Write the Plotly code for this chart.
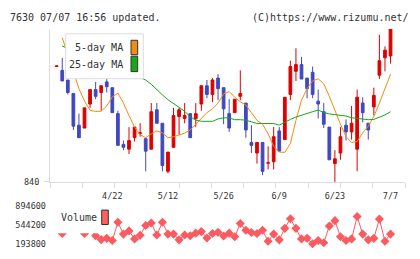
import plotly.graph_objects as go

# ---------------- data ----------------
idx = list(range(61))
tick_pos = [10, 20, 30, 40, 50, 60]
tick_labels = ["4/22", "5/12", "5/26", "6/9", "6/23", "7/7"]

open_ = [960, 956, 946, 932, 899, 896, 921, 936, 933, 944,
         938, 911, 879, 874, 886, 890.5, 885, 874, 915, 901,
         851, 876, 908, 906, 911, 906, 921, 940, 931, 948,
         938, 911, 912, 929, 922, 881, 870, 881, 859.5, 861,
         893, 884, 931, 955, 962, 948, 954, 924, 913, 897,
         859, 870, 899, 892, 874, 922, 901, 918, 951, 969,
         971]
high = [961, 969, 946, 932, 911, 917, 936, 944, 940, 948,
        938, 914, 883, 897, 897, 901, 885, 922, 922, 901,
        871, 917, 917, 922, 911, 922, 940, 946, 948, 952,
        938, 926, 926, 956, 922, 899, 881, 881, 877, 897,
        897, 928, 966, 979, 970, 948, 960, 936, 922, 897,
        873, 897, 905, 919, 936, 928, 901, 938, 993, 981,
        999]
low = [960, 945, 931, 894, 886, 896, 917, 926, 914, 933,
       912, 878, 873, 869, 882, 887, 851, 874, 901, 851,
       849, 876, 889, 901, 886, 897, 914, 927, 923, 925,
       900, 892, 912, 925, 886, 870, 859, 847, 853, 853,
       872, 884, 925, 945, 947, 927, 927, 906, 896, 863,
       840, 863, 883, 884, 851, 902, 884, 909, 947, 955,
       963]
close = [960.6, 945, 933, 898, 886, 917, 936, 929, 940, 939,
         912, 878, 876, 883, 897, 891, 872, 913, 901, 857,
         871, 909, 915, 909, 886, 911, 940, 931, 946, 937,
         916, 896, 926, 932, 894, 878, 881, 851, 860, 887,
         872, 928, 960, 962, 947, 937, 931, 921, 900, 863,
         864, 887, 892, 901, 928, 912, 894, 930, 966, 977,
         999]

ma5 = [None, 990, 972, 954, 937, 924, 914.5, 913.3, 913.5, 919,
       928.5, 932.3, 922, 909, 897, 889, 886, 890, 893, 891,
       886, 887, 889, 890.7, 894, 900, 907, 912, 916, 922,
       931.5, 934, 928, 923.3, 920, 912, 904, 900, 890, 877,
       871, 870.7, 880, 904, 925, 937, 945, 947.3, 942, 929,
       914, 900, 887, 881, 882, 891, 898, 908, 922, 937,
       952]
ma25 = [None, 981.3, 979, 977, 974, 972, 969, 967, 964, 962,
        960, 958, 956, 954, 951, 948.5, 946, 941.5, 935.7, 930.5,
        925.5, 921.5, 917.5, 913.5, 907.5, 904.3, 903, 903, 903, 905.5,
        906.7, 906.5, 904.7, 904.7, 904.2, 902.5, 900.7, 900.7, 900.7, 900.7,
        899, 902.2, 905, 907.5, 909.5, 911.3, 913, 914.7, 912.2, 910.7,
        909.8, 909, 908.5, 906.7, 905.8, 905, 904.7, 905, 907, 909.7,
        913]

volume = [500000, 382800, 600000, 894600, 560000, 382800, 470000, 341800, 270500, 293700,
          252600, 591500, 372100, 431000, 283000, 350700, 532600, 579000, 354300, 591500,
          372100, 372100, 265100, 354300, 341800, 390000, 418500, 300800, 382800, 407800,
          336500, 390000, 324000, 568300, 443400, 400600, 382800, 443400, 240200, 372100,
          265100, 479100, 657400, 479100, 283000, 293700, 193800, 252600, 211600, 520100,
          621800, 324000, 252600, 283000, 698400, 372100, 265100, 293700, 650300, 240200,
          372100]
vol_ticks = [193800, 544200, 894600]

# ---------------- styling ----------------
W, H = 420, 259
RED = "#dd0000"
BLUE = "#4048c0"
ORANGE = "#ef8c14"
GREEN = "#16a816"
VOLC = "#fa5a60"
GRID = "#dcdcdc"
TXT = "#333333"
MONO = "DejaVu Sans Mono"


def px(x):
    return x / W


def py(y):
    return 1 - y / H


xdom = [px(50), px(405)]
xr = [-1.2, 62.6]
n_div = 11
minor_vals = [xr[0] + k * (xr[1] - xr[0]) / n_div for k in range(n_div + 1)]

fig = go.Figure()
fig.add_trace(go.Candlestick(
    x=idx, open=open_, high=high, low=low, close=close,
    increasing=dict(fillcolor=RED, line=dict(color=RED, width=1)),
    decreasing=dict(fillcolor=BLUE, line=dict(color=BLUE, width=1)),
    whiskerwidth=0, showlegend=False, xaxis="x", yaxis="y"))
fig.add_trace(go.Scatter(x=idx, y=ma5, mode="lines", line=dict(color=ORANGE, width=1),
                         showlegend=False, xaxis="x", yaxis="y", cliponaxis=False))
fig.add_trace(go.Scatter(x=idx, y=ma25, mode="lines", line=dict(color=GREEN, width=1),
                         showlegend=False, xaxis="x", yaxis="y", cliponaxis=False))
fig.add_trace(go.Scatter(x=idx, y=volume, mode="lines+markers",
                         line=dict(color=VOLC, width=1),
                         marker=dict(symbol="diamond", size=7, color=VOLC),
                         showlegend=False, xaxis="x2", yaxis="y2", cliponaxis=False))

shapes = [
    # main legend box
    dict(type="rect", xref="paper", yref="paper", x0=px(65.7), x1=px(143.3),
         y0=py(76.7), y1=py(30), fillcolor="white", line=dict(color=GRID, width=1), layer="above"),
    dict(type="rect", xref="paper", yref="paper", x0=px(131), x1=px(137.7),
         y0=py(51.7), y1=py(36.7), fillcolor=ORANGE, line=dict(color="#333", width=1), layer="above"),
    dict(type="rect", xref="paper", yref="paper", x0=px(131), x1=px(137.7),
         y0=py(69.3), y1=py(53.3), fillcolor=GREEN, line=dict(color="#333", width=1), layer="above"),
    # volume legend box
    dict(type="rect", xref="paper", yref="paper", x0=px(52), x1=px(112),
         y0=py(237.5), y1=py(204), fillcolor="white", line=dict(width=0), layer="above"),
    dict(type="rect", xref="paper", yref="paper", x0=px(101.7), x1=px(108.3),
         y0=py(228.3), y1=py(213.3), fillcolor="#ff6060", line=dict(color="#333", width=1), layer="above"),
]

ann = [
    dict(text="7630 07/07 16:56 updated.", x=px(8), y=py(12.5), xanchor="left", yanchor="middle",
         font=dict(family=MONO, size=10, color=TXT)),
    dict(text="(C)https://www.rizumu.net/", x=px(411), y=py(12.5), xanchor="right", yanchor="middle",
         font=dict(family=MONO, size=10, color=TXT)),
    dict(text="5-day MA", x=px(124.5), y=py(44.5), xanchor="right", yanchor="middle",
         font=dict(family=MONO, size=10, color=TXT)),
    dict(text="25-day MA", x=px(124.5), y=py(61.5), xanchor="right", yanchor="middle",
         font=dict(family=MONO, size=10, color=TXT)),
    dict(text="Volume", x=px(59), y=py(221.5), xanchor="left", yanchor="middle",
         font=dict(family=MONO, size=10, color=TXT)),
]
for a in ann:
    a.update(xref="paper", yref="paper", showarrow=False)

fig.update_layout(
    width=W, height=H, margin=dict(l=0, r=0, t=0, b=0),
    paper_bgcolor="white", plot_bgcolor="white",
    showlegend=False, shapes=shapes, annotations=ann,
    xaxis=dict(domain=xdom, range=xr, anchor="y", tickvals=tick_pos, ticktext=tick_labels,
               ticks="", showline=True, linecolor=GRID, linewidth=1, showgrid=False,
               zeroline=False, rangeslider=dict(visible=False), ticklabelstandoff=6,
               tickfont=dict(family=MONO, size=8.5, color=TXT), fixedrange=True,
               minor=dict(tickmode="array", tickvals=minor_vals, ticks="outside",
                          ticklen=5, tickcolor=GRID, tickwidth=1, showgrid=False)),
    yaxis=dict(domain=[py(184), py(25)], range=[840, 999], anchor="x", tickvals=[840],
               ticks="outside", ticklen=5, tickcolor=GRID, showline=True, linecolor=GRID,
               linewidth=1, showgrid=False, zeroline=False, ticklabelstandoff=3,
               tickfont=dict(family=MONO, size=8.5, color=TXT)),
    xaxis2=dict(domain=xdom, range=xr, anchor="y2", visible=False),
    yaxis2=dict(domain=[py(248.3), py(209)], range=[193800, 894600], anchor="x2",
                tickvals=vol_ticks, ticktext=[str(v) for v in vol_ticks], ticks="",
                showline=False, showgrid=False, zeroline=False, ticklabelstandoff=3,
                tickfont=dict(family=MONO, size=8.5, color=TXT)),
)

fig.write_html("out.html")
